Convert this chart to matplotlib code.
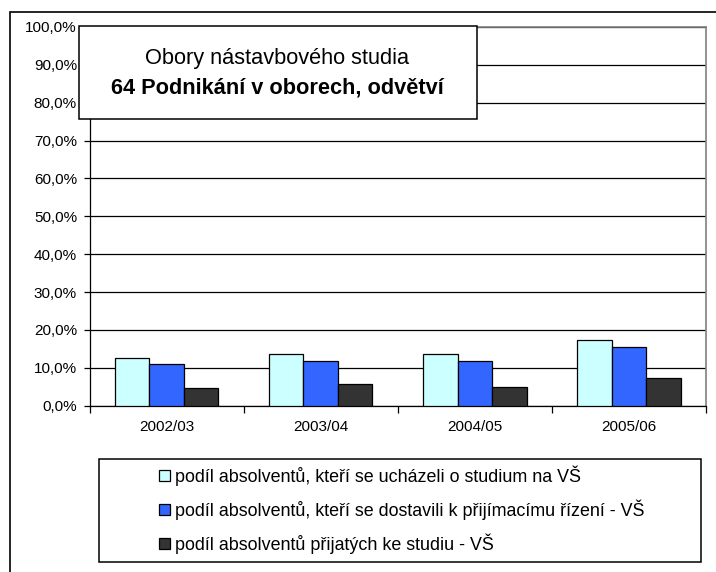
#!/usr/bin/env python3
"""Grouped bar chart: podíl absolventů, obory nástavbového studia 64."""

import matplotlib

matplotlib.use("Agg")
import matplotlib.pyplot as plt
import numpy as np
from matplotlib.patches import Rectangle
from matplotlib.ticker import FixedLocator, FuncFormatter, MultipleLocator

plt.rcParams["font.family"] = ["Liberation Sans", "DejaVu Sans"]

YEARS = ["2002/03", "2003/04", "2004/05", "2005/06"]
SERIES = [
    "podíl absolventů, kteří se ucházeli o studium na VŠ",
    "podíl absolventů, kteří se dostavili k přijímacímu řízení - VŠ",
    "podíl absolventů přijatých ke studiu - VŠ",
]
UCHAZELI = [12.5, 13.7, 13.6, 17.4]
DOSTAVILI = [10.9, 11.8, 11.8, 15.5]
PRIJATI = [4.6, 5.7, 5.0, 7.2]
TITLE_1 = "Obory nástavbového studia"
TITLE_2 = "64 Podnikání v oborech, odvětví"

COLORS = ["#CCFFFF", "#3366FF", "#333333"]
W, H = 716, 572


def fx(px):
    return px / W


def fy(py):
    return 1 - py / H


def main():
    fig = plt.figure(figsize=(W / 100, H / 100), dpi=100)
    ax = fig.add_axes([fx(89.5), fy(405.7), fx(706) - fx(89.5), fy(27) - fy(405.7)])

    x = np.arange(len(YEARS))
    bw = 0.224
    for i, (vals, col, lab) in enumerate(zip([UCHAZELI, DOSTAVILI, PRIJATI], COLORS, SERIES)):
        ax.bar(x + (i - 1) * bw, vals, bw, color=col, edgecolor="black", lw=0.9, label=lab, zorder=3)

    ax.set_xlim(-0.5, len(YEARS) - 0.5)
    ax.set_ylim(0, 100)
    ax.yaxis.set_major_locator(MultipleLocator(10))
    ax.yaxis.set_major_formatter(FuncFormatter(lambda v, _p: f"{v:.1f}%".replace(".", ",")))
    ax.set_xticks(x)
    ax.set_xticklabels(YEARS)
    ax.tick_params(axis="x", length=0, pad=10, labelsize=11)
    ax.xaxis.set_minor_locator(FixedLocator(np.arange(-0.5, len(YEARS), 1.0)))
    ax.tick_params(axis="x", which="minor", length=5, width=0.9, direction="out")
    ax.tick_params(axis="y", length=4, width=0.9, direction="out", pad=5, labelsize=11)
    ax.grid(axis="y", color="black", lw=0.9, zorder=0)
    for s in ("top", "right"):
        ax.spines[s].set_color("#808080")
        ax.spines[s].set_linewidth(1.2)
    for s in ("left", "bottom"):
        ax.spines[s].set_color("black")
        ax.spines[s].set_linewidth(0.9)

    # outer chart frame (cut by the image on the right and bottom)
    fig.add_artist(Rectangle((fx(10), fy(600)), 1.2, fy(12) - fy(600), transform=fig.transFigure,
                             facecolor="none", edgecolor="black", lw=1.2, clip_on=False, zorder=0))

    # title box
    fig.add_artist(Rectangle((fx(78.5), fy(118.6)), fx(476.7) - fx(78.5), fy(26.3) - fy(118.6),
                             transform=fig.transFigure, facecolor="white", edgecolor="black", lw=1.1, zorder=5))
    cx = fx(277.5)
    fig.text(cx, fy(58.5), TITLE_1, ha="center", va="center", fontsize=15.7, zorder=6)
    fig.text(cx, fy(88), TITLE_2, ha="center", va="center", fontsize=15.7, fontweight="bold", zorder=6)

    # legend box
    fig.add_artist(Rectangle((fx(99), fy(562)), fx(700.5) - fx(99), fy(459) - fy(562),
                             transform=fig.transFigure, facecolor="white", edgecolor="black", lw=1.1, zorder=5))
    handles, labels = ax.get_legend_handles_labels()
    leg = fig.legend(handles, labels, loc="center", bbox_to_anchor=(fx(402), fy(509.5)),
                     frameon=False, fontsize=12.9, handlelength=0.6, handleheight=0.6,
                     handletextpad=0.3, labelspacing=0.75, borderpad=0)
    leg.set_zorder(6)

    fig.savefig("out.png", dpi=100)


if __name__ == "__main__":
    main()
